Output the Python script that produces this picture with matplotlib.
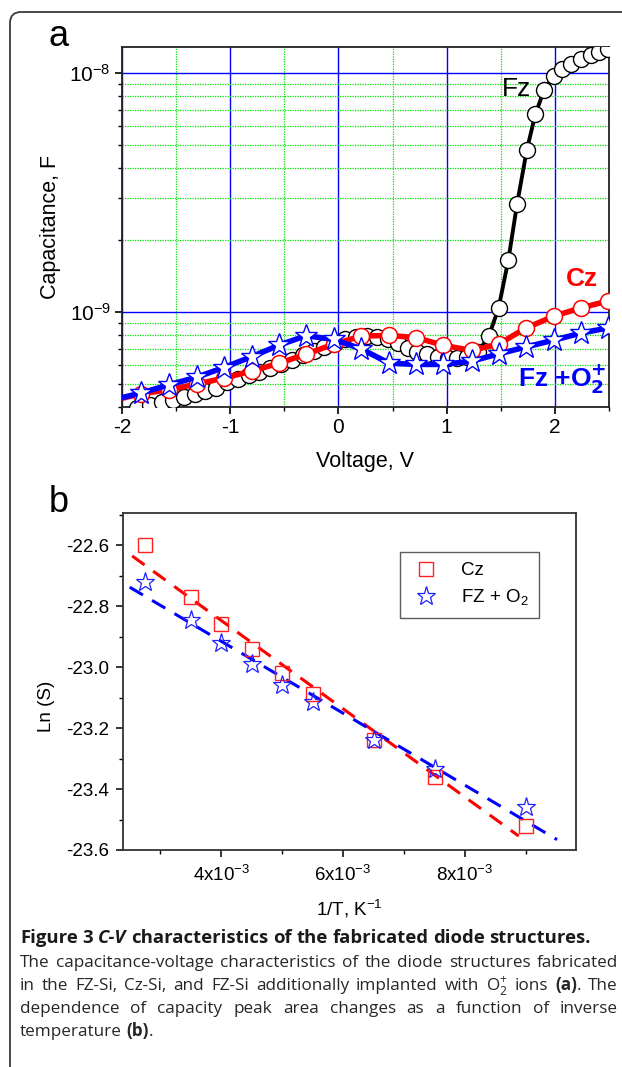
import numpy as np
import matplotlib
matplotlib.use('Agg')
import matplotlib.pyplot as plt
from matplotlib.patches import FancyBboxPatch
from matplotlib.transforms import IdentityTransform
from matplotlib.ticker import (LogLocator, MultipleLocator, FixedLocator,
                               NullFormatter, FormatStrFormatter, FixedFormatter)

plt.rcParams['font.family'] = ['Liberation Sans', 'DejaVu Sans']
plt.rcParams['axes.unicode_minus'] = False

# ---------------- Panel a data: C-V curves ----------------
fz_v = [-1.86, -1.74, -1.63, -1.53, -1.43, -1.33, -1.23, -1.13, -1.03, -0.93,
        -0.83, -0.73, -0.63, -0.53, -0.43, -0.33, -0.23, -0.13, -0.03, 0.06,
        0.16, 0.26, 0.36, 0.46, 0.55, 0.64, 0.73, 0.82, 0.92, 1.01,
        1.10, 1.19, 1.29, 1.39, 1.48, 1.57, 1.65, 1.74, 1.82, 1.90,
        1.99, 2.07, 2.15, 2.24, 2.33, 2.41, 2.49]
fz_c = [3.95e-10, 4.06e-10, 4.19e-10, 4.29e-10, 4.40e-10, 4.52e-10, 4.66e-10, 4.80e-10, 5.07e-10, 5.25e-10,
        5.43e-10, 5.62e-10, 5.85e-10, 6.08e-10, 6.31e-10, 6.59e-10, 6.85e-10, 7.13e-10, 7.38e-10, 7.71e-10,
        7.85e-10, 7.92e-10, 7.89e-10, 7.71e-10, 7.38e-10, 7.08e-10, 6.82e-10, 6.64e-10, 6.46e-10, 6.40e-10,
        6.40e-10, 6.50e-10, 6.79e-10, 7.92e-10, 1.04e-9, 1.65e-9, 2.82e-9, 4.75e-9, 6.73e-9, 8.49e-9,
        9.70e-9, 1.04e-8, 1.09e-8, 1.15e-8, 1.19e-8, 1.22e-8, 1.26e-8]

cz_v = [-2.0, -1.82, -1.57, -1.31, -1.06, -0.80, -0.55, -0.30, -0.04, 0.21, 0.47,
        0.72, 0.97, 1.23, 1.48, 1.73, 1.99, 2.24, 2.49]
cz_c = [4.35e-10, 4.55e-10, 4.72e-10, 4.99e-10, 5.28e-10, 5.66e-10, 6.10e-10, 6.65e-10, 7.34e-10, 7.92e-10, 7.98e-10,
        7.80e-10, 7.25e-10, 6.90e-10, 7.33e-10, 8.55e-10, 9.60e-10, 1.04e-9, 1.11e-9]

fzo_v = [-2.0, -1.82, -1.57, -1.31, -1.06, -0.80, -0.55, -0.30, -0.04, 0.21, 0.47,
         0.72, 0.97, 1.23, 1.48, 1.73, 1.99, 2.24, 2.49]
fzo_c = [4.38e-10, 4.58e-10, 4.95e-10, 5.33e-10, 5.85e-10, 6.50e-10, 7.26e-10, 7.95e-10, 7.67e-10, 7.00e-10, 6.10e-10,
         6.03e-10, 6.03e-10, 6.22e-10, 6.67e-10, 7.13e-10, 7.62e-10, 8.15e-10, 8.57e-10]

# ---------------- Panel b data: Ln(S) vs 1/T ----------------
inv_t = [2.75e-3, 3.5e-3, 4.0e-3, 4.5e-3, 5.0e-3, 5.5e-3, 6.5e-3, 7.5e-3, 9.0e-3]
ln_s_cz = [-22.60, -22.77, -22.86, -22.94, -23.02, -23.09, -23.24, -23.36, -23.52]
ln_s_fzo = [-22.72, -22.845, -22.92, -22.99, -23.06, -23.115, -23.24, -23.335, -23.46]
cz_fit_range = [2.54e-3, 8.88e-3]
fzo_fit_range = [2.50e-3, 9.51e-3]
b_yticks = [-23.6, -23.4, -23.2, -23.0, -22.8, -22.6]
b_yminor = [-23.5, -23.3, -23.1, -22.9, -22.7, -22.5]

W, H = 622, 1067
fig = plt.figure(figsize=(W / 100, H / 100), dpi=100)
fig.patch.set_facecolor('white')

def fr(x0, y_top, x1, y_bot):
    return [x0 / W, 1 - y_bot / H, (x1 - x0) / W, (y_bot - y_top) / H]

# outer rounded frame (only top-left corner visible)
frame = FancyBboxPatch((10, -60), 800, (H - 12) + 60, boxstyle='round,pad=0,rounding_size=11',
                       transform=IdentityTransform(), facecolor='none', edgecolor='#3a3a3a',
                       linewidth=1.3, clip_on=False)
fig.add_artist(frame)

# ================= Panel a =================
axa = fig.add_axes(fr(122, 47, 609, 407))
axa.set_yscale('log')
axa.set_xlim(-2, 2.5)
axa.set_ylim(4.0e-10, 1.285e-8)
axa.xaxis.set_major_locator(MultipleLocator(1))
axa.xaxis.set_minor_locator(MultipleLocator(0.5))
axa.yaxis.set_major_locator(LogLocator(base=10, numticks=10))
axa.yaxis.set_minor_locator(LogLocator(base=10, subs=np.arange(2, 10), numticks=10))
axa.yaxis.set_minor_formatter(NullFormatter())
axa.grid(which='major', color='#0000ff', lw=1.0, ls='-')
axa.grid(which='minor', color='#00e000', lw=0.9, ls=(0, (1, 1)))
axa.set_axisbelow(True)
axa.tick_params(which='major', direction='out', length=5, width=1.2, labelsize=15, pad=3)
axa.tick_params(which='minor', direction='out', length=3, width=1.0)
for s in axa.spines.values():
    s.set_linewidth(1.3)
    s.set_color('#222222')

axa.plot(fz_v, fz_c, color='black', lw=2.8, marker='o', ms=11.5, mfc='white', mec='black',
         mew=1.0, zorder=3, clip_on=True)
axa.plot(cz_v, cz_c, color='#ff0000', lw=4.0, marker='o', ms=11.5, mfc='white', mec='#ff0000',
         mew=1.1, markevery=list(range(1, len(cz_v))), zorder=4)
axa.plot(fzo_v, fzo_c, color='#0000ff', lw=4.0, marker='*', ms=17, mfc='white', mec='#0000ff',
         mew=1.0, markevery=list(range(1, len(fzo_v))), zorder=5)

axa.text(1.51, 8.6e-9, 'Fz', fontsize=19, color='black', ha='left', va='center', zorder=6)
axa.text(2.25, 1.38e-9, 'Cz', fontsize=19, color='#ff0000', fontweight='bold', ha='center',
         va='center', zorder=6)
axa.text(1.66, 5.25e-10, r'Fz +O$_{\mathbf{2}}^{\mathbf{+}}$', fontsize=19, color='#0000ff',
         fontweight='bold', ha='left', va='center', zorder=6)

axa.set_xlabel('Voltage, V', fontsize=15.5, labelpad=10)
axa.set_ylabel('Capacitance, F', fontsize=15.5)
axa.yaxis.set_label_coords(-0.125, 0.5)
fig.text(48 / W, 1 - 37 / H, 'a', fontsize=26, ha='left', va='center')

# ================= Panel b =================
axb = fig.add_axes(fr(123, 513, 576, 850))
axb.set_xlim(2.39e-3, 9.82e-3)
axb.set_ylim(-23.6, -22.495)

axb.plot(inv_t, ln_s_cz, ls='none', marker='s', ms=10, mfc='none', mec='#ff2020', mew=1.0,
         label='Cz', zorder=3)
axb.plot(inv_t, ln_s_fzo, ls='none', marker='*', ms=14, mfc='none', mec='#2020ff', mew=0.9,
         label=r'FZ + O$_{\mathdefault{2}}$', zorder=3)

k1, b1 = np.polyfit(inv_t, ln_s_cz, 1)
k2, b2 = np.polyfit(inv_t, ln_s_fzo, 1)
xr1 = np.array(cz_fit_range)
xr2 = np.array(fzo_fit_range)
axb.plot(xr1, k1 * xr1 + b1, color='#ff0000', lw=2.2, ls=(0, (5, 3.5)), zorder=2)
axb.plot(xr2, k2 * xr2 + b2, color='#0000ff', lw=2.2, ls=(0, (5, 3.5)), zorder=2)

axb.xaxis.set_major_locator(FixedLocator([4e-3, 6e-3, 8e-3]))
axb.xaxis.set_major_formatter(FixedFormatter([r'4x10$^{\mathdefault{-3}}$',
                                              r'6x10$^{\mathdefault{-3}}$',
                                              r'8x10$^{\mathdefault{-3}}$']))
axb.xaxis.set_minor_locator(FixedLocator([3e-3, 5e-3, 7e-3, 9e-3]))
axb.yaxis.set_major_locator(FixedLocator(b_yticks))
axb.yaxis.set_minor_locator(FixedLocator(b_yminor))
axb.yaxis.set_major_formatter(FormatStrFormatter('%.1f'))
axb.yaxis.set_minor_formatter(NullFormatter())
axb.tick_params(which='major', direction='out', length=5, width=1.1, labelsize=13.5, pad=5,
                top=False, right=False)
axb.tick_params(which='minor', direction='out', length=3, width=1.0, top=False, right=False)
for s in axb.spines.values():
    s.set_linewidth(1.3)
    s.set_color('#333333')

leg = axb.legend(loc='upper left', bbox_to_anchor=(0.612, 0.885), fontsize=13.5, frameon=True,
                 fancybox=False, edgecolor='#333333', handletextpad=1.1, borderpad=0.55,
                 labelspacing=0.45, handlelength=1.6, borderaxespad=0)
leg.get_frame().set_linewidth(1.0)

axb.set_xlabel(r'1/T, K$^{\mathdefault{-1}}$', fontsize=13.5, labelpad=9)
axb.set_ylabel('Ln (S)', fontsize=13.5)
axb.yaxis.set_label_coords(-0.15, 0.425)
fig.text(49 / W, 1 - 503 / H, 'b', fontsize=26, ha='left', va='center')

# ================= Caption =================
renderer = fig.canvas.get_renderer()
cap_font = ['Open Sans', 'DejaVu Sans']
cap_color = '#262626'

def draw_words(words, x0, x1, ybase, justify, color, size):
    placed = []
    widths = []
    for word in words:
        pieces = []
        w = 0.0
        for txt, weight, style in word:
            t = fig.text(0, 0, txt, fontsize=size, fontweight=weight, fontstyle=style,
                         family=cap_font, color=color, ha='left', va='baseline',
                         transform=IdentityTransform())
            pw = t.get_window_extent(renderer).width
            pieces.append((t, pw))
            w += pw
        placed.append(pieces)
        widths.append(w)
    sp = fig.text(0, 0, 'a a', fontsize=size, family=cap_font, transform=IdentityTransform())
    sa = fig.text(0, 0, 'aa', fontsize=size, family=cap_font, transform=IdentityTransform())
    space = sp.get_window_extent(renderer).width - sa.get_window_extent(renderer).width
    sp.remove(); sa.remove()
    if justify and len(words) > 1:
        gap = max((x1 - x0 - sum(widths)) / (len(words) - 1), 0.7 * space)
    else:
        gap = space
    x = x0
    for pieces, w in zip(placed, widths):
        xx = x
        for t, pw in pieces:
            t.set_position((xx, H - ybase))
            xx += pw
        x += w + gap

def simple(line, weight='normal'):
    return [[(w, weight, 'normal')] for w in line.split()]

bold_size = 13.3
body_size = 12.3

bold_line = (simple('Figure 3', 'bold') + [[('C-V', 'bold', 'italic')]]
             + simple('characteristics of the fabricated diode structures.', 'bold'))
draw_words(bold_line, 20, 618, 943, False, '#1a1a1a', bold_size)

line2 = simple('The capacitance-voltage characteristics of the diode structures fabricated')
draw_words(line2, 20, 618, 967, True, cap_color, body_size)

line3 = (simple('in the FZ-Si, Cz-Si, and FZ-Si additionally implanted with')
         + [[(r'O$_{\mathdefault{2}}^{\mathdefault{+}}$', 'normal', 'normal')]]
         + simple('ions') + [[('(a)', 'bold', 'normal'), ('.', 'normal', 'normal')]]
         + simple('The'))
draw_words(line3, 20, 618, 990, True, cap_color, body_size)

line4 = simple('dependence of capacity peak area changes as a function of inverse')
draw_words(line4, 20, 618, 1013, True, cap_color, body_size)

line5 = simple('temperature') + [[('(b)', 'bold', 'normal'), ('.', 'normal', 'normal')]]
draw_words(line5, 20, 618, 1036, False, cap_color, body_size)

fig.savefig('out.png', dpi=100, facecolor='white')
